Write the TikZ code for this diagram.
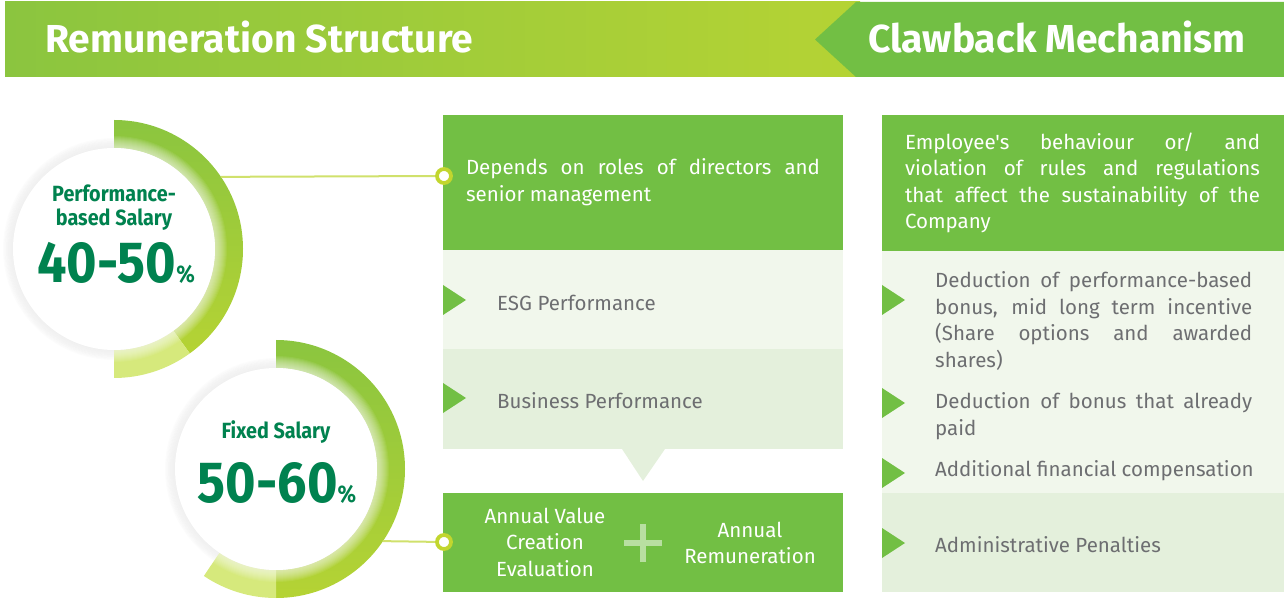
\documentclass[tikz,border=0pt]{standalone}
\usepackage{fontspec}
\newfontfamily\bodyfont{Fira Sans}
\newfontfamily\roundfont[FakeStretch=0.9]{Fira Sans}
\usetikzlibrary{calc}
\definecolor{leaf}{HTML}{72BF44}
\definecolor{grass}{HTML}{8BC53F}
\definecolor{lime}{HTML}{B5D334}
\definecolor{mist}{HTML}{D6E97C}
\definecolor{paleA}{HTML}{F1F7EC}
\definecolor{paleB}{HTML}{E4F0DC}
\definecolor{pine}{HTML}{00824F}
\definecolor{ash}{HTML}{6D6E71}
\definecolor{wire}{HTML}{D0E16C}
\definecolor{pinhead}{HTML}{C2D62E}
\tikzset{
  heading/.style={text=white, font=\bodyfont\fontsize{39}{39}\selectfont\bfseries, anchor=west, inner sep=0pt},
  note/.style={text=white, font=\bodyfont\fontsize{20.5}{26.5}\selectfont, inner sep=0pt, align=justify},
  item/.style={text=ash, font=\bodyfont\fontsize{20.5}{26.5}\selectfont, anchor=west, inner sep=0pt},
  pin/.style={circle, draw=pinhead, line width=3.8pt, fill=white, minimum size=14pt, inner sep=0pt},
  ring/.style={circle, minimum size=258pt, inner sep=0pt, outer sep=0pt},
  share/.style={text=pine, font=\roundfont\fontsize{58}{58}\selectfont\bfseries, inner sep=0pt}
}
\begin{document}
\begin{tikzpicture}[x=1pt, y=1pt]
\useasboundingbox (0,0) rectangle (1284,600);
\shade[left color=grass, right color=lime] (5,523) rectangle (860,598);
\fill[leaf] (856,598) -- (1284,598) -- (1284,523) -- (856,523) -- (815,560.5) -- cycle;
\node[heading] (remTitle) at (45,563) {Remuneration Structure};
\node[heading] (clawTitle) at (868,563) {Clawback Mechanism};

\foreach \cx/\cy/\a/\b/\name in {114/351/-54/-90/r1, 276/131/-90/-124/r2} {
  \foreach \k in {1,...,10} \fill[black, opacity=0.012] (\cx,\cy) circle[radius=101+\k];
  \shade[top color=grass, bottom color=lime] (\cx,\cy) ++(90:129) arc[start angle=90, end angle=\a, radius=129]
    -- ++({\a+180}:28) arc[start angle=\a, end angle=90, radius=101] -- cycle;
  \fill[mist] (\cx,\cy) ++(\a:129) arc[start angle=\a, end angle=\b, radius=129]
    -- ++({\b+180}:28) arc[start angle=\b, end angle=\a, radius=101] -- cycle;
  \foreach \k in {1,...,12} \fill[white, opacity=0.07] (\cx,\cy) circle[radius=101+\k];
  \fill[white] (\cx,\cy) circle[radius=101];
  \node[ring] (\name) at (\cx,\cy) {};
}
\node[text=pine, font=\roundfont\fontsize{22}{24}\selectfont\bfseries, align=center] (perfLabel) at (114,392) {Performance-\\based Salary};
\node[share] (perfValue) at (116,337) {40-50{\fontsize{24}{24}\selectfont\%}};
\node[text=pine, font=\roundfont\fontsize{22}{24}\selectfont\bfseries] (fixLabel) at (276,168) {Fixed Salary};
\node[share] (fixValue) at (277,117) {50-60{\fontsize{24}{24}\selectfont\%}};

\fill[leaf] (443,350) rectangle (843,485);
\fill[paleA] (443,251) rectangle (843,350);
\fill[paleB] (443,151) rectangle (843,251);
\fill[paleB] (622,151) -- (665,151) -- (643,119) -- cycle;
\fill[leaf] (443,8) rectangle (843,107);
\fill[leaf] (882,349) rectangle (1284,485);
\fill[paleA] (882,107) rectangle (1284,349);
\fill[paleB] (882,8) rectangle (1284,107);
\foreach \x/\y in {443/300, 443/202, 882/300, 882/197, 882/127, 882/57}
  \fill[leaf] (\x,\y+15) -- ++(23,-15) -- ++(-23,-15) -- cycle;
\draw[white, opacity=0.5, line width=6.5pt] (624,57) -- (662,57) (643,38) -- (643,76);

\node[pin] (pinA) at (444,424) {};
\node[pin] (pinB) at (444,58) {};
\draw[wire, line width=2pt] (r1.34.5) -- (pinA);
\draw[wire, line width=2pt] (r2.-34.5) -- (pinB);

\node[note, text width=354pt] (roleText) at (643,418) {Depends on roles of directors and\linebreak senior management};
\node[item] (esgText) at (497,297) {ESG Performance};
\node[item] (bizText) at (497,199) {Business Performance};
\node[note, align=center] (valueEval) at (545,58) {Annual Value\\Creation\\Evaluation};
\node[note, align=center] (annualPay) at (750,57) {Annual\\Remuneration};

\node[note, text width=355pt] (causeText) at (1082.5,417) {Employee's behaviour or/ and\linebreak violation of rules and regulations\linebreak that affect the sustainability of the\linebreak Company};
\node[item, text width=317pt, align=justify] (cutBonus) at (935,279) {Deduction of performance-based\linebreak bonus, mid long term incentive\linebreak (Share options and awarded\linebreak shares)};
\node[item, text width=317pt, align=justify] (payBack) at (935,184) {Deduction of bonus that already\linebreak paid};
\node[item] (extraComp) at (935,129) {Additional financial compensation};
\node[item] (adminPen) at (935,55) {Administrative Penalties};
\end{tikzpicture}
\end{document}
